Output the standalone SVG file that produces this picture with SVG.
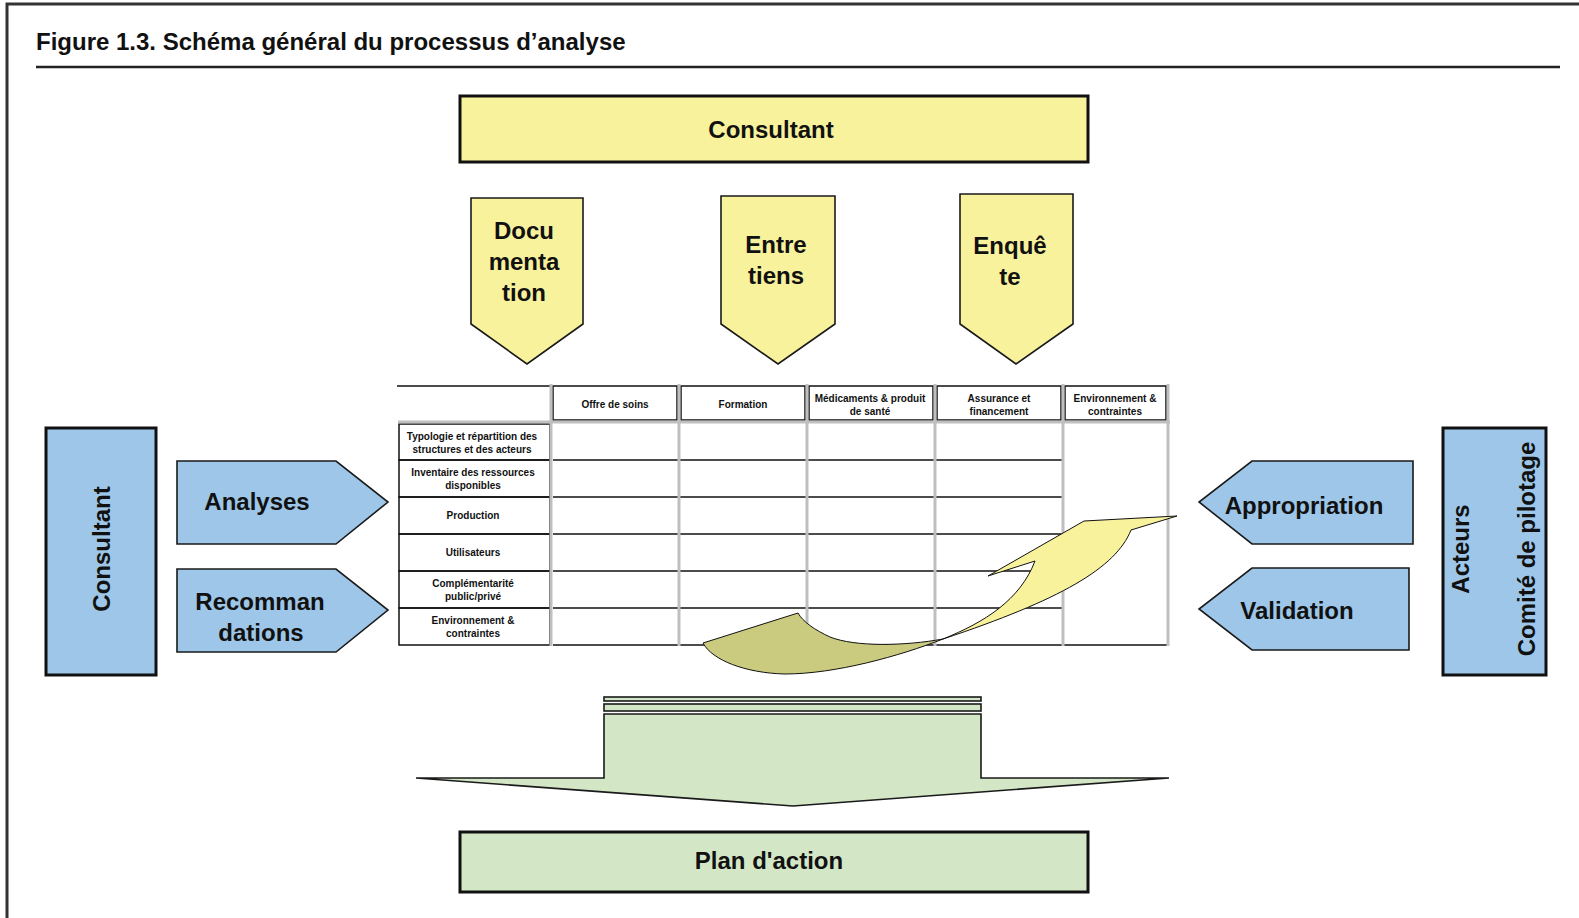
<svg xmlns="http://www.w3.org/2000/svg" width="1579" height="918" viewBox="0 0 1579 918">
  <style>
    .bold { font-family: "Liberation Sans", Arial, Helvetica, sans-serif; font-weight: bold; fill: #111; }
    .big { font-size: 24px; text-anchor: middle; }
    .small { font-size: 10px; text-anchor: middle; }
    .yellow { fill: #F9F29C; }
    .blue { fill: #9DC6E8; }
    .green { fill: #D3E7C7; }
    .olive { fill: #CBCB80; }
    .edge { stroke: #1a1a1a; stroke-width: 1.6; stroke-linejoin: miter; }
    .heavy { stroke: #111; stroke-width: 3; }
    .grid { stroke: #BFBFBF; stroke-width: 3; fill: none; }
    .rule { stroke: #111; stroke-width: 1.5; fill: none; }
  </style>

  <rect width="1579" height="918" fill="#fff"/>

  <!-- page frame -->
  <g id="frame" fill="none" stroke="#333" stroke-width="3">
    <path d="M7,918 V4 H1579"/>
  </g>

  <!-- title -->
  <g id="title">
    <text class="bold" x="36" y="50" font-size="24" fill="#222">Figure 1.3. Schéma général du processus d’analyse</text>
    <line x1="36" y1="67" x2="1560" y2="67" stroke="#222" stroke-width="2.5"/>
  </g>

  <!-- consultant banner -->
  <g id="node-consultant-top">
    <rect x="460" y="96" width="628" height="66" class="yellow heavy"/>
    <text class="bold big" x="771" y="137.5">Consultant</text>
  </g>

  <!-- collection methods -->
  <g id="node-documentation">
    <path d="M471,198 H583 V324 L527,364 L471,324 Z" class="yellow edge"/>
    <text class="bold big" x="524" y="238.5">Docu</text>
    <text class="bold big" x="524" y="269.5">menta</text>
    <text class="bold big" x="524" y="300.5">tion</text>
  </g>
  <g id="node-entretiens">
    <path d="M721,196 H835 V324 L778,364 L721,324 Z" class="yellow edge"/>
    <text class="bold big" x="776" y="252.5">Entre</text>
    <text class="bold big" x="776" y="283.5">tiens</text>
  </g>
  <g id="node-enquete">
    <path d="M960,194 H1073 V324 L1016,364 L960,324 Z" class="yellow edge"/>
    <text class="bold big" x="1010" y="253.5">Enquê</text>
    <text class="bold big" x="1010" y="284.5">te</text>
  </g>

  <!-- left side: consultant outputs -->
  <g id="node-consultant-left">
    <rect x="46" y="428" width="110" height="247" class="blue heavy" stroke-width="2.5"/>
    <text class="bold big" font-size="23" transform="translate(110,549) rotate(-90)">Consultant</text>
  </g>
  <g id="node-analyses">
    <path d="M177,461 H336 L388,502 L336,544 H177 Z" class="blue edge"/>
    <text class="bold big" x="257" y="509.5">Analyses</text>
  </g>
  <g id="node-recommandations">
    <path d="M177,569 H336 L388,610 L336,652 H177 Z" class="blue edge"/>
    <text class="bold big" x="260" y="609.5">Recomman</text>
    <text class="bold big" x="261" y="640.5">dations</text>
  </g>

  <!-- right side: stakeholders -->
  <g id="node-appropriation">
    <path d="M1413,461 H1252 L1199,502 L1252,544 H1413 Z" class="blue edge"/>
    <text class="bold big" x="1304" y="513.5">Appropriation</text>
  </g>
  <g id="node-validation">
    <path d="M1409,568 H1252 L1199,609 L1252,650 H1409 Z" class="blue edge"/>
    <text class="bold big" x="1297" y="618.5">Validation</text>
  </g>
  <g id="node-acteurs">
    <rect x="1443" y="428" width="103" height="247" class="blue heavy" stroke-width="2.5"/>
    <text class="bold big" font-size="22.5" transform="translate(1469,549) rotate(-90)">Acteurs</text>
    <text class="bold big" font-size="22.5" transform="translate(1535,549) rotate(-90)">Comité de pilotage</text>
  </g>

  <!-- analysis matrix -->
  <g id="matrix">
    <!-- header row -->
    <line x1="397" y1="386" x2="550" y2="386" class="rule"/>
    <rect x="553" y="386" width="124" height="34" class="rule" fill="#9DC6E8"/>
    <rect x="681" y="386" width="124" height="34" class="rule" fill="#9DC6E8"/>
    <rect x="809" y="386" width="124" height="34" class="rule" fill="#9DC6E8"/>
    <rect x="937" y="386" width="124" height="34" class="rule" fill="#9DC6E8"/>
    <rect x="1065" y="386" width="101" height="34" class="rule" fill="#F9F29C"/>

    <!-- row label cells -->
    <rect x="399" y="424" width="151" height="36" class="rule" fill="#fff"/>
    <rect x="399" y="460" width="151" height="37" class="rule" fill="#fff"/>
    <rect x="399" y="497" width="151" height="37" class="rule" fill="#fff"/>
    <rect x="399" y="534" width="151" height="37" class="rule" fill="#fff"/>
    <rect x="399" y="571" width="151" height="37" class="rule" fill="#fff"/>
    <rect x="399" y="608" width="151" height="37" class="rule" fill="#F9F29C"/>

    <!-- body row separators -->
    <g class="rule">
      <line x1="553" y1="460" x2="1063" y2="460"/>
      <line x1="553" y1="497" x2="1063" y2="497"/>
      <line x1="553" y1="534" x2="1063" y2="534"/>
      <line x1="553" y1="571" x2="1063" y2="571"/>
      <line x1="553" y1="608" x2="1063" y2="608"/>
      <line x1="553" y1="645" x2="1168" y2="645"/>
    </g>

    <!-- grey grid -->
    <g class="grid">
      <line x1="398" y1="422" x2="1170" y2="422"/>
      <line x1="551" y1="384" x2="551" y2="646"/>
      <line x1="679" y1="384" x2="679" y2="646"/>
      <line x1="807" y1="384" x2="807" y2="646"/>
      <line x1="935" y1="384" x2="935" y2="646"/>
      <line x1="1063" y1="384" x2="1063" y2="646"/>
      <line x1="1168" y1="384" x2="1168" y2="646"/>
    </g>

    <!-- column headings -->
    <text class="bold small" x="615" y="407.5">Offre de soins</text>
    <text class="bold small" x="743" y="407.5">Formation</text>
    <text class="bold small" x="870" y="401.5">Médicaments &amp; produit</text>
    <text class="bold small" x="870" y="414.5">de santé</text>
    <text class="bold small" x="999" y="401.5">Assurance et</text>
    <text class="bold small" x="999" y="414.5">financement</text>
    <text class="bold small" x="1115" y="401.5">Environnement &amp;</text>
    <text class="bold small" x="1115" y="414.5">contraintes</text>

    <!-- row headings -->
    <text class="bold small" x="472" y="439.5">Typologie et répartition des</text>
    <text class="bold small" x="472" y="452.5">structures et des acteurs</text>
    <text class="bold small" x="473" y="476">Inventaire des ressources</text>
    <text class="bold small" x="473" y="489">disponibles</text>
    <text class="bold small" x="473" y="519">Production</text>
    <text class="bold small" x="473" y="556">Utilisateurs</text>
    <text class="bold small" x="473" y="587">Complémentarité</text>
    <text class="bold small" x="473" y="600">public/privé</text>
    <text class="bold small" x="473" y="624">Environnement &amp;</text>
    <text class="bold small" x="473" y="637">contraintes</text>
  </g>

  <!-- connectors -->
  <g id="connectors">
    <!-- twisted feedback arrow over the matrix -->
    <path class="olive" stroke="#111" stroke-width="1"
          d="M943,639 C905,646 855,647 830,637 C815,630 803,622 798,613 L703,643 C712,660 745,673 785,674 C835,674 900,656 943,639 Z"/>
    <path class="yellow" stroke="#111" stroke-width="1"
          d="M943,639 C985,622 1020,600 1035,561 L988,576 L1084,521 L1177,516 L1131,530 C1116,568 1060,600 943,639 Z"/>

    <!-- synthesis arrow towards the action plan -->
    <rect x="604" y="697" width="377" height="4" class="green edge"/>
    <rect x="604" y="704" width="377" height="7" class="green edge"/>
    <path d="M604,714 H981 V778 H1169 L793,806 L416,778 H604 Z" class="green edge"/>
  </g>

  <!-- outcome -->
  <g id="node-plan-action">
    <rect x="460" y="832" width="628" height="60" class="green heavy"/>
    <text class="bold big" x="769" y="869">Plan d'action</text>
  </g>
</svg>
